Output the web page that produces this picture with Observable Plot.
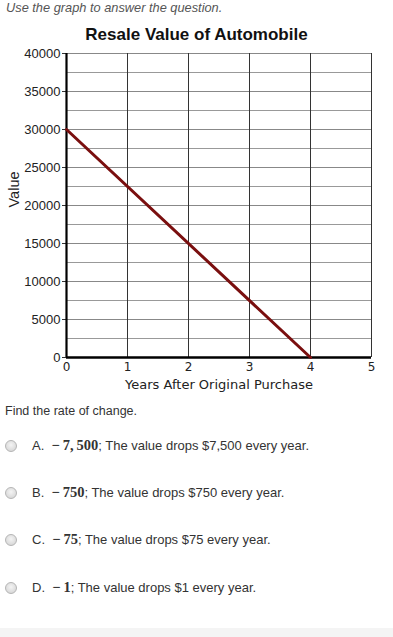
<!DOCTYPE html>
<html><head><meta charset="utf-8">
<script src="https://cdn.jsdelivr.net/npm/d3@7"></script>
<script src="https://cdn.jsdelivr.net/npm/@observablehq/plot@0.6"></script>
<style>
body{margin:0;background:#fff;width:393px;height:637px;overflow:hidden;position:relative;font-family:"Liberation Sans",Arial,sans-serif;color:#333;}
.abs{position:absolute;white-space:nowrap;}
#intro{left:6px;top:0px;font-size:12.8px;font-style:italic;color:#555;}
#title{left:0;width:393px;text-align:center;top:25px;font-size:17px;font-weight:bold;color:#111;}
#chart{position:absolute;left:0;top:45px;}
#chart g[aria-label='y-axis tick label']{font-size:13px;font-family:"Liberation Sans",Arial,sans-serif;}
#chart g[aria-label='x-axis tick label']{font-size:12px;font-family:"DejaVu Sans",Verdana,sans-serif;}
#chart g[aria-label='y-axis label']{font-size:14.5px;font-family:"Liberation Sans",Arial,sans-serif;}
#chart g[aria-label='x-axis label']{font-size:13px;font-family:"DejaVu Sans",Verdana,sans-serif;}
#q{left:5px;top:404px;font-size:12.5px;}
.opt{left:5px;font-size:13px;display:flex;align-items:center;}
.radio{width:10px;height:10px;border-radius:50%;border:1px solid #b5b5b5;background:radial-gradient(circle at 50% 40%,#f4f4f4,#d0d0d0);margin-right:15px;}
.m{font-family:"Liberation Serif","Times New Roman",serif;font-weight:bold;font-size:14.5px;color:#333;}
#band{left:0;top:628px;width:393px;height:9px;background:#f4f4f4;}
</style></head>
<body>
<div id="intro" class="abs">Use the graph to answer the question.</div>
<div id="title" class="abs">Resale Value of Automobile</div>
<div id="chart"></div>
<div id="q" class="abs">Find the rate of change.</div>
<div id="opts"></div>
<div id="band" class="abs"></div>
<script>
const years = [0, 4];
const values = [30000, 0];
const xTicks = [0, 1, 2, 3, 4, 5];
const yTicks = [0, 5000, 10000, 15000, 20000, 25000, 30000, 35000, 40000];
const yMinor = [2500, 7500, 12500, 17500, 22500, 27500, 32500, 37500];
const optLetters = ["A.", "B.", "C.", "D."];
const optMath = ["\u2212\u20097,\u2009500", "\u2212\u2009750", "\u2212\u200975", "\u2212\u20091"];
const optText = ["; The value drops $7,500 every year.", "; The value drops $750 every year.", "; The value drops $75 every year.", "; The value drops $1 every year."];

const pts = years.map((y, i) => ({year: y, value: values[i]}));

const chart = Plot.plot({
  width: 393, height: 350,
  marginLeft: 66, marginRight: 22, marginTop: 8, marginBottom: 38,
  x: {domain: [0, 5]},
  y: {domain: [0, 40000]},
  style: {background: "transparent"},
  marks: [
    Plot.gridY(yMinor, {stroke: "#999", strokeOpacity: 1, strokeWidth: 1}),
    Plot.gridY(yTicks, {stroke: "#888", strokeOpacity: 1, strokeWidth: 1}),
    Plot.gridX(xTicks, {stroke: "#333", strokeOpacity: 1, strokeWidth: 1}),
    Plot.axisY({ticks: yTicks, tickFormat: d => String(d), tickSize: 4, tickPadding: 2, fill: "#222",
      label: "Value", labelAnchor: "center", labelArrow: "none", labelOffset: 58}),
    Plot.axisX({ticks: xTicks, tickFormat: d => String(d), tickSize: 0, tickPadding: 5, fill: "#222",
      label: "Years After Original Purchase", labelAnchor: "center", labelArrow: "none", labelOffset: 31}),
    Plot.ruleX([0], {stroke: "#000", strokeWidth: 2.2}),
    Plot.ruleY([0], {stroke: "#000", strokeWidth: 2.5}),
    Plot.line(pts, {x: "year", y: "value", stroke: "#7a0f0f", strokeWidth: 3})
  ]
});
document.getElementById("chart").appendChild(chart);
chart.querySelectorAll("g[aria-label='y-axis label'] text").forEach(t => t.setAttribute("dx", "16"));

const tops = [437, 484, 531, 579];
const opts = document.getElementById("opts");
optLetters.forEach((l, i) => {
  const d = document.createElement("div");
  d.className = "abs opt";
  d.style.top = tops[i] + "px";
  d.innerHTML = `<span class="radio"></span><span>${l}&nbsp;&nbsp;<span class="m">${optMath[i]}</span>${optText[i]}</span>`;
  opts.appendChild(d);
});
</script>
</body></html>
